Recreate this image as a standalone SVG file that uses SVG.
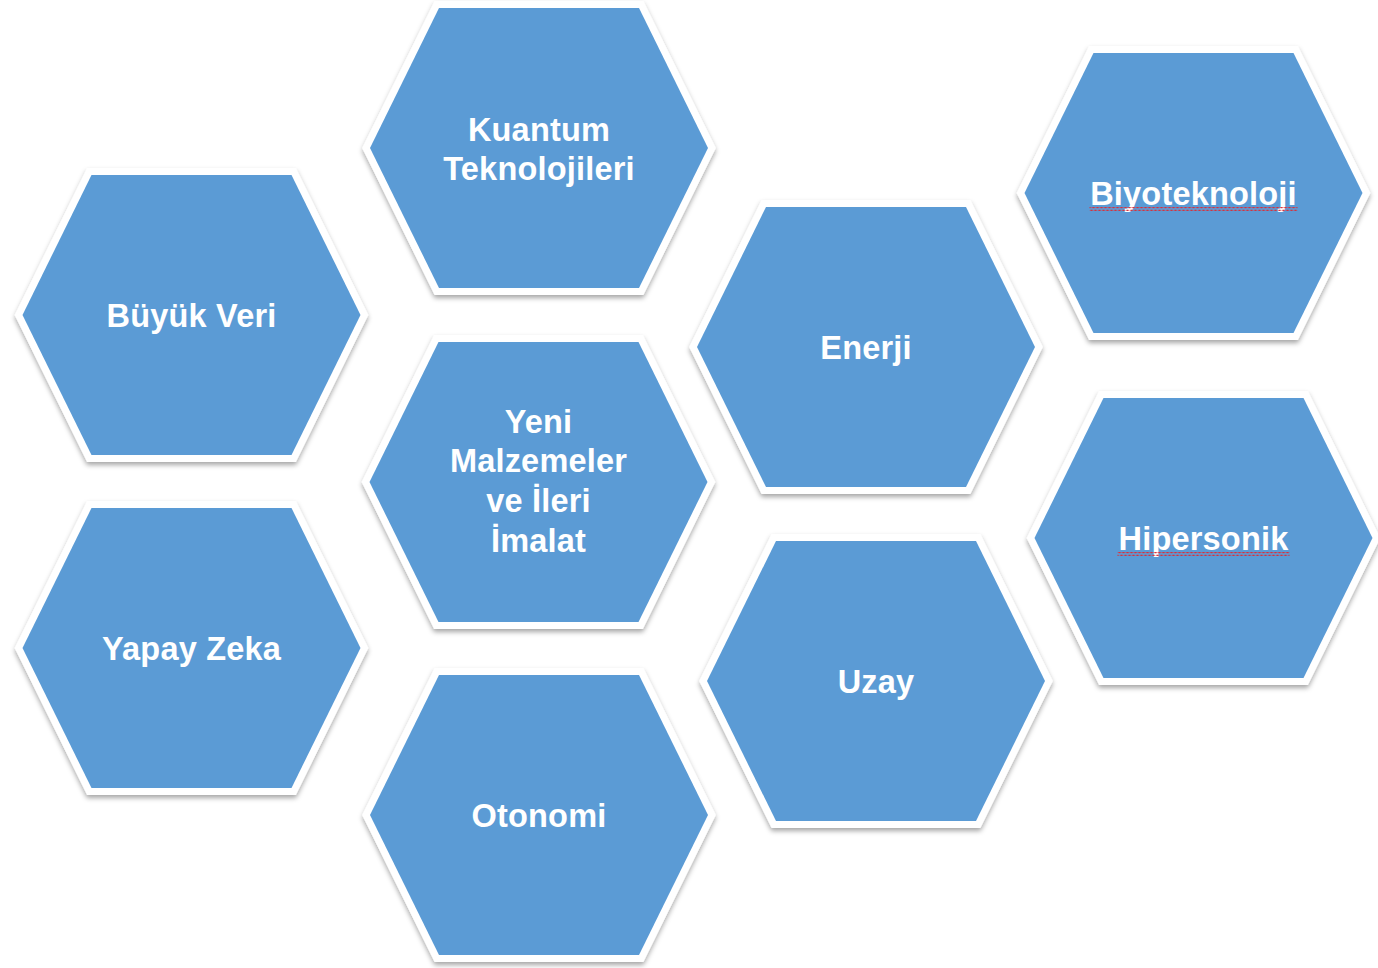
<svg xmlns="http://www.w3.org/2000/svg" xmlns:xlink="http://www.w3.org/1999/xlink" width="1378" height="968" viewBox="0 0 1378 968">
  <style>
    .frame { fill: #ffffff; stroke: #ffffff; stroke-width: 14; stroke-linejoin: miter; filter: url(#shadow); }
    .face { fill: #5B9BD5; }
    .label { font-family: "Liberation Sans", Arial, sans-serif; font-weight: bold; font-size: 32.5px; letter-spacing: 0.2px; fill: #ffffff; text-anchor: middle; }
    .squiggle { fill: url(#wavy); }
  </style>
  <defs>
    <filter id="shadow" x="-10%" y="-10%" width="120%" height="125%">
      <feDropShadow dx="0" dy="3" stdDeviation="2.5" flood-color="#000000" flood-opacity="0.35"/>
    </filter>
    <polygon id="hex" points="-169,0 -100,-140 100,-140 169,0 100,140 -100,140"/>
    <pattern id="wavy" patternUnits="userSpaceOnUse" x="0" y="0" width="4" height="4">
      <polyline points="0,3 2,1 4,3" fill="none" stroke="#d9303a" stroke-width="1.2"/>
    </pattern>
  </defs>
  <rect width="1378" height="968" fill="#ffffff"/>
  <g id="connectors"></g>

  <g id="node-kuantum" transform="translate(539,148)">
    <use href="#hex" class="frame"/>
    <use href="#hex" class="face"/>
    <text class="label" x="0" y="-7">Kuantum</text>
    <text class="label" x="0" y="32">Teknolojileri</text>
  </g>

  <g id="node-buyuk-veri" transform="translate(191.5,315)">
    <use href="#hex" class="frame"/>
    <use href="#hex" class="face"/>
    <text class="label" x="0" y="12">Büyük Veri</text>
  </g>

  <g id="node-yeni-malzemeler" transform="translate(538.5,482)">
    <use href="#hex" class="frame"/>
    <use href="#hex" class="face"/>
    <text class="label" x="0" y="-49">Yeni</text>
    <text class="label" x="0" y="-10">Malzemeler</text>
    <text class="label" x="0" y="30">ve İleri</text>
    <text class="label" x="0" y="70">İmalat</text>
  </g>

  <g id="node-yapay-zeka" transform="translate(191.5,648)">
    <use href="#hex" class="frame"/>
    <use href="#hex" class="face"/>
    <text class="label" x="0" y="12">Yapay Zeka</text>
  </g>

  <g id="node-otonomi" transform="translate(539,815)">
    <use href="#hex" class="frame"/>
    <use href="#hex" class="face"/>
    <text class="label" x="0" y="12">Otonomi</text>
  </g>

  <g id="node-enerji" transform="translate(866,347)">
    <use href="#hex" class="frame"/>
    <use href="#hex" class="face"/>
    <text class="label" x="0" y="12">Enerji</text>
  </g>

  <g id="node-uzay" transform="translate(876,681)">
    <use href="#hex" class="frame"/>
    <use href="#hex" class="face"/>
    <text class="label" x="0" y="12">Uzay</text>
  </g>

  <g id="node-biyoteknoloji" transform="translate(1193.5,193)">
    <use href="#hex" class="frame"/>
    <use href="#hex" class="face"/>
    <text class="label" x="0" y="12">Biyoteknoloji</text>
    <rect class="squiggle" x="-104" y="14" width="208" height="4"/>
  </g>

  <g id="node-hipersonik" transform="translate(1203.5,538)">
    <use href="#hex" class="frame"/>
    <use href="#hex" class="face"/>
    <text class="label" x="0" y="12">Hipersonik</text>
    <rect class="squiggle" x="-86" y="14" width="172" height="4"/>
  </g>
</svg>
